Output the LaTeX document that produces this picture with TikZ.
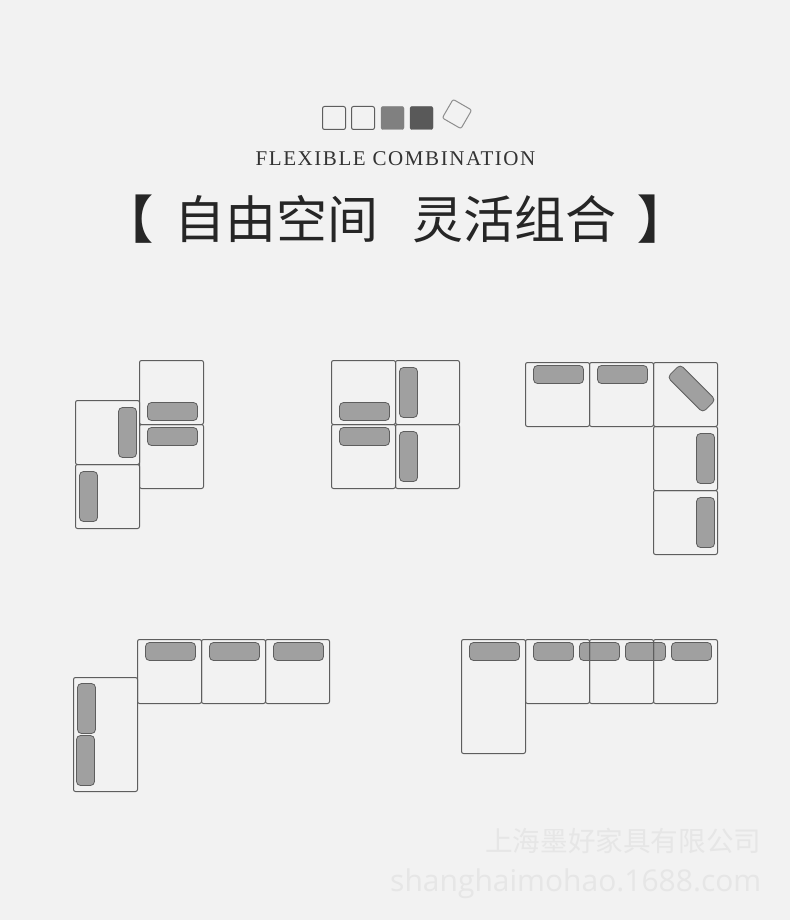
\documentclass[tikz,border=0pt]{standalone}
\usepackage{fontspec}
\setmainfont{Liberation Serif}
\newfontfamily\cjk{Noto Sans CJK SC}
\newfontfamily\wmark{Open Sans}
\definecolor{pagegray}{HTML}{F2F2F2}
\definecolor{edgegray}{HTML}{5E5E5E}
\definecolor{cushgray}{HTML}{A0A0A0}
\definecolor{markgray}{HTML}{E6E6E6}
\tikzset{
  cell/.style={draw=edgegray, line width=1pt, rounded corners=2pt, inner sep=0pt, outer sep=0pt, minimum width=64pt, minimum height=#1},
  cell/.default=64pt,
  hcush/.style={draw=edgegray, fill=cushgray, line width=0.8pt, rounded corners=4pt, inner sep=0pt, outer sep=0pt, minimum width=50pt, minimum height=18pt},
  shortcush/.style={hcush, minimum width=40pt},
  vcush/.style={hcush, minimum width=18pt, minimum height=50pt},
  swatch/.style={draw=#1, fill=#1, rounded corners=2pt, inner sep=0pt, outer sep=0pt, minimum size=23pt},
  blank/.style={draw=edgegray, line width=1pt, rounded corners=2pt, inner sep=0pt, outer sep=0pt, minimum size=23pt},
  bigtext/.style={font=\cjk\fontsize{51}{51}\selectfont, text=black!85, inner sep=0pt},
}
\begin{document}
\begin{tikzpicture}[x=1pt, y=-1pt]

  \useasboundingbox[fill=pagegray] (-0.5,0.5) rectangle (789.5,920.5);

  % header
  \node[blank] (swatch1) at (333.5,118.5) {};
  \node[blank] (swatch2) at (362.5,118.5) {};
  \node[swatch=black!50] (swatch3) at (392,118.5) {};
  \node[swatch=black!65] (swatch4) at (421,118.5) {};
  \node[blank, rotate=-30, draw=edgegray!70, minimum size=21.5pt] (swatch5) at (456.5,114.5) {};
  \node[font=\fontsize{21}{21}\selectfont, text=black!80] (subtitle) at (395,159) {\addfontfeature{LetterSpace=7.5}FLEXIBLE COMBINATION};
  \node[bigtext] (title) at (395,219.5) {自由空间\hspace{35pt}灵活组合};
  \node[bigtext, font=\cjk\bfseries\fontsize{51}{51}\selectfont] (open) at (127,219.5) {【};
  \node[bigtext, font=\cjk\bfseries\fontsize{51}{51}\selectfont] (close) at (662,219.5) {】};

  % group one
  \node[hcush] (c11) at (172,412) {};
  \node[hcush] (c12) at (172,437) {};
  \node[vcush] (c13) at (127,433) {};
  \node[vcush] (c14) at (88,497) {};
  \node[cell] (a11) at (171,393) {};
  \node[cell] (a12) at (171,457) {};
  \node[cell] (a13) at (107,433) {};
  \node[cell] (a14) at (107,497) {};

  % group two
  \node[hcush] (c21) at (364,412) {};
  \node[vcush] (c22) at (408,393) {};
  \node[hcush] (c23) at (364,437) {};
  \node[vcush] (c24) at (408,457) {};
  \node[cell] (a21) at (363,393) {};
  \node[cell] (a22) at (427,393) {};
  \node[cell] (a23) at (363,457) {};
  \node[cell] (a24) at (427,457) {};

  % group three
  \node[hcush] (c31) at (558,375) {};
  \node[hcush] (c32) at (622,375) {};
  \node[hcush, rotate=-45] (c33) at (691,389) {};
  \node[vcush] (c34) at (705,459) {};
  \node[vcush] (c35) at (705,523) {};
  \node[cell] (a31) at (557,395) {};
  \node[cell] (a32) at (621,395) {};
  \node[cell] (a33) at (685,395) {};
  \node[cell] (a34) at (685,459) {};
  \node[cell] (a35) at (685,523) {};

  % group four
  \node[hcush] (c41) at (170,652) {};
  \node[hcush] (c42) at (234,652) {};
  \node[hcush] (c43) at (298,652) {};
  \node[vcush] (c44) at (86,709) {};
  \node[vcush] (c45) at (85,761) {};
  \node[cell] (a41) at (169,672) {};
  \node[cell] (a42) at (233,672) {};
  \node[cell] (a43) at (297,672) {};
  \node[cell=114pt] (a44) at (105,735) {};

  % group five
  \node[hcush] (c51) at (494,652) {};
  \node[shortcush] (c52) at (553,652) {};
  \node[shortcush] (c53) at (599,652) {};
  \node[shortcush] (c54) at (645,652) {};
  \node[shortcush] (c55) at (691,652) {};
  \node[cell=114pt] (a51) at (493,697) {};
  \node[cell] (a52) at (557,672) {};
  \node[cell] (a53) at (621,672) {};
  \node[cell] (a54) at (685,672) {};

  % watermark
  \node[font=\cjk\fontsize{27.6}{28}\selectfont, text=markgray, anchor=east, inner sep=0pt] (mark1) at (761,841) {上海墨好家具有限公司};
  \node[font=\wmark\fontsize{30}{30}\selectfont, text=markgray, anchor=east, inner sep=0pt] (mark2) at (761,884) {shanghaimohao.1688.com};

\end{tikzpicture}
\end{document}
